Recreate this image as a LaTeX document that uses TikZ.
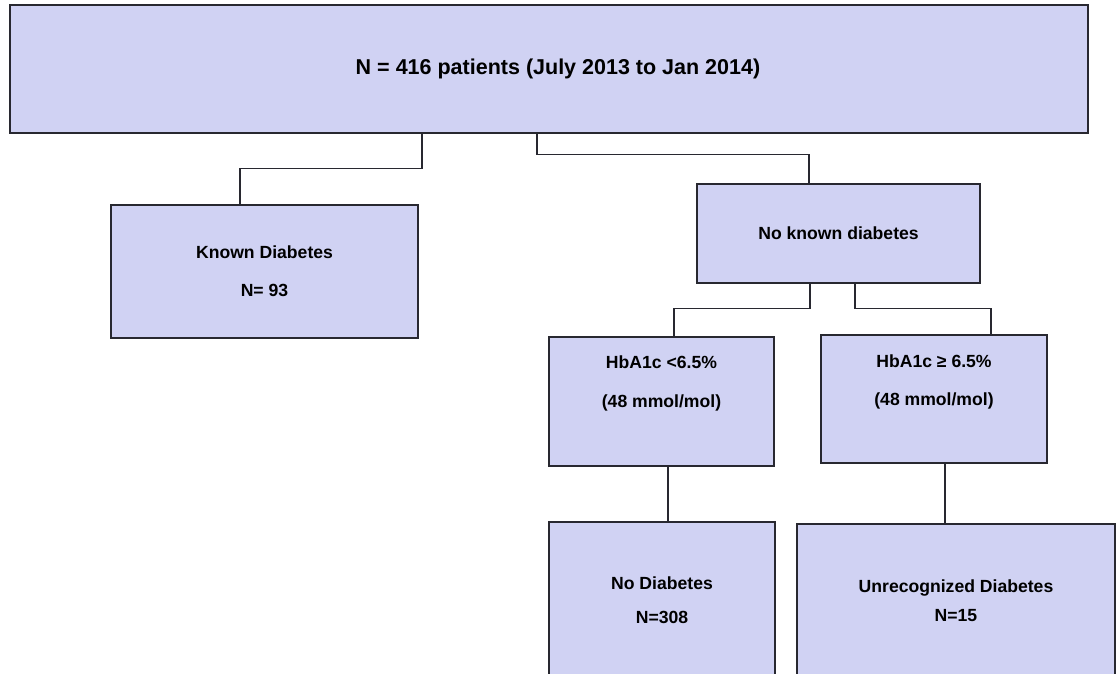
\documentclass[tikz,border=0pt]{standalone}
\usepackage{fontspec}
\setmainfont{Liberation Sans}
\usepackage{tikz}
\definecolor{boxfill}{RGB}{208,210,243}
\definecolor{boxline}{RGB}{40,40,48}
\newcommand{\titlefont}{\fontsize{21.5}{26}\selectfont\bfseries}
\newcommand{\boxfont}{\fontsize{17.6}{38}\selectfont\bfseries}

\begin{document}
\begin{tikzpicture}[
  x=1pt, y=-1pt,
  box/.style={draw=boxline, fill=boxfill, line width=1.4pt, inner sep=0pt, align=center, font=\boxfont},
  conn/.style={draw=boxline, line width=1.4pt}
]
\useasboundingbox (0,0) rectangle (1119,674);
\node[box, minimum width=1078pt, minimum height=128pt, font=\titlefont] (total) at (549,69)
  {\hspace*{18pt}N = 416 patients (July 2013 to Jan 2014)};
\node[box, minimum width=307pt, minimum height=133pt] (known) at (264.5,271.5)
  {Known Diabetes\\N= 93};
\node[box, minimum width=283pt, minimum height=99pt] (noknown) at (838.5,233.5)
  {No known diabetes};
\node[box, minimum width=225pt, minimum height=129pt, font=\fontsize{17.6}{39}\selectfont\bfseries] (low) at (661.5,401.5)
  {HbA1c <6.5\%\\(48 mmol/mol)\\\mbox{}};
\node[box, minimum width=226pt, minimum height=128pt, font=\fontsize{17.6}{38}\selectfont\bfseries] (high) at (934,399)
  {HbA1c ≥ 6.5\%\\(48 mmol/mol)\\\mbox{}};
\node[box, minimum width=226pt, minimum height=156pt, font=\fontsize{17.6}{34}\selectfont\bfseries] (nodiab) at (662,600)
  {No Diabetes\\N=308};
\node[box, minimum width=318pt, minimum height=154pt, font=\fontsize{17.6}{29}\selectfont\bfseries] (unrec) at (956,601)
  {Unrecognized Diabetes\\N=15};
% elbow connectors
\draw[conn] (total.south -| 422,0) -- ++(0,35) -| (known.north -| 240,0);
\draw[conn] (total.south -| 537,0) -- ++(0,21) -| (noknown.north -| 809,0);
\draw[conn] (noknown.south -| 810,0) -- ++(0,25) -| (low.north -| 674,0);
\draw[conn] (noknown.south -| 855,0) -- ++(0,25) -| (high.north -| 991,0);
\draw[conn] (low.south -| 668,0) -- (nodiab.north -| 668,0);
\draw[conn] (high.south -| 945,0) -- (unrec.north -| 945,0);
\end{tikzpicture}
\end{document}
